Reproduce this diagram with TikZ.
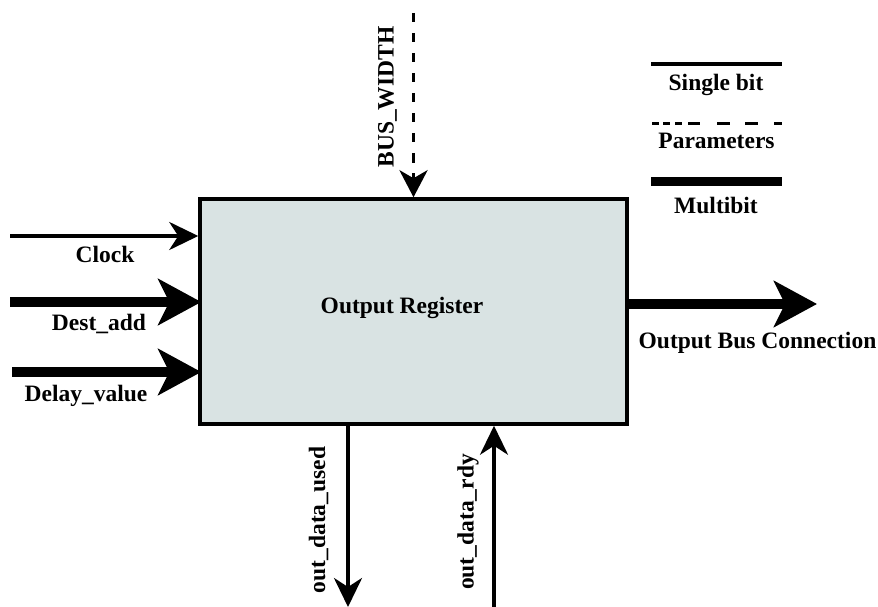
\documentclass[tikz,border=0pt]{standalone}
\usepackage{fontspec}
\setmainfont{Liberation Serif}
\usetikzlibrary{arrows.meta}
\definecolor{regfill}{RGB}{217,227,227}

\begin{document}
\begin{tikzpicture}[x=1pt,y=-1pt,
  lbl/.style={font=\fontsize{23.5}{28}\selectfont\bfseries, inner sep=0pt, anchor=base},
  singlebit/.style={line width=3.5pt, -{Stealth[length=29pt,width=28pt,inset=9pt]}},
  multibit/.style={line width=10.7pt, -{Stealth[length=43pt,width=46pt,inset=11pt]}},
  parambit/.style={line width=3.8pt, dash pattern=on 9.5pt off 10.5pt,
    -{Stealth[length=27pt,width=28pt,inset=8pt]}},
  regbox/.style={draw, line width=3.5pt, fill=regfill, inner sep=0pt,
    minimum width=427pt, minimum height=225pt}]

% canvas
\fill[white] (0,0) rectangle (878,607);
\useasboundingbox (0,0) rectangle (878,607);

% the register block
\node[regbox] (reg) at (413.5,311.5) {};
\node[lbl] (title) at (402,313) {Output Register};

% free ends of the signals
\coordinate (clk) at (10,236);
\coordinate (dst) at (10,302);
\coordinate (dly) at (12,372);
\coordinate (bus) at (817,304);
\coordinate (bw)  at (413.5,13);
\coordinate (used) at (348,607);
\coordinate (rdy)  at (494,607);

% inputs and outputs
\draw[singlebit] (clk) -- (reg.west |- clk);
\draw[multibit]  (dst) -- ([xshift=3pt]reg.west |- dst);
\draw[multibit]  (dly) -- ([xshift=3pt]reg.west |- dly);
\draw[multibit]  (reg.east |- bus) -- (bus);
\draw[parambit]  (bw) -- (reg.north);
\draw[singlebit] (reg.south -| used) -- (used);
\draw[singlebit] (rdy) -- (rdy |- reg.south);

% signal names
\node[lbl] (lclk) at (105,262.7) {Clock};
\node[lbl] (ldst) at (99,330) {Dest\_add};
\node[lbl] (ldly) at (86,401) {Delay\_value};
\node[lbl] (lbus) at (757.5,348.3) {Output Bus Connection};
\node[lbl, rotate=90] (lbw) at (393.5,97) {BUS\_WIDTH};
\node[lbl, rotate=90] (lused) at (325,520) {out\_data\_used};
\node[lbl, rotate=90] (lrdy) at (473.5,522) {out\_data\_rdy};

% legend
\coordinate (k1a) at (651,64);  \coordinate (k1b) at (782,64);
\coordinate (k2a) at (652,123.5); \coordinate (k2b) at (782,123.5);
\coordinate (k3a) at (651,181); \coordinate (k3b) at (782,181);
\draw[line width=3.5pt] (k1a) -- (k1b);
\draw[line width=3.5pt, dash pattern=on 7pt off 4pt on 7pt off 5pt on 7pt off 6pt on 12pt off 17pt on 13pt off 15pt on 13pt off 16pt on 8pt] (k2a) -- (k2b);
\draw[line width=9pt] (k3a) -- (k3b);
\node[lbl] (ksingle) at (716,91) {Single bit};
\node[lbl] (kparam) at (716.5,148.3) {Parameters};
\node[lbl] (kmulti) at (716,213.3) {Multibit};
\end{tikzpicture}
\end{document}
